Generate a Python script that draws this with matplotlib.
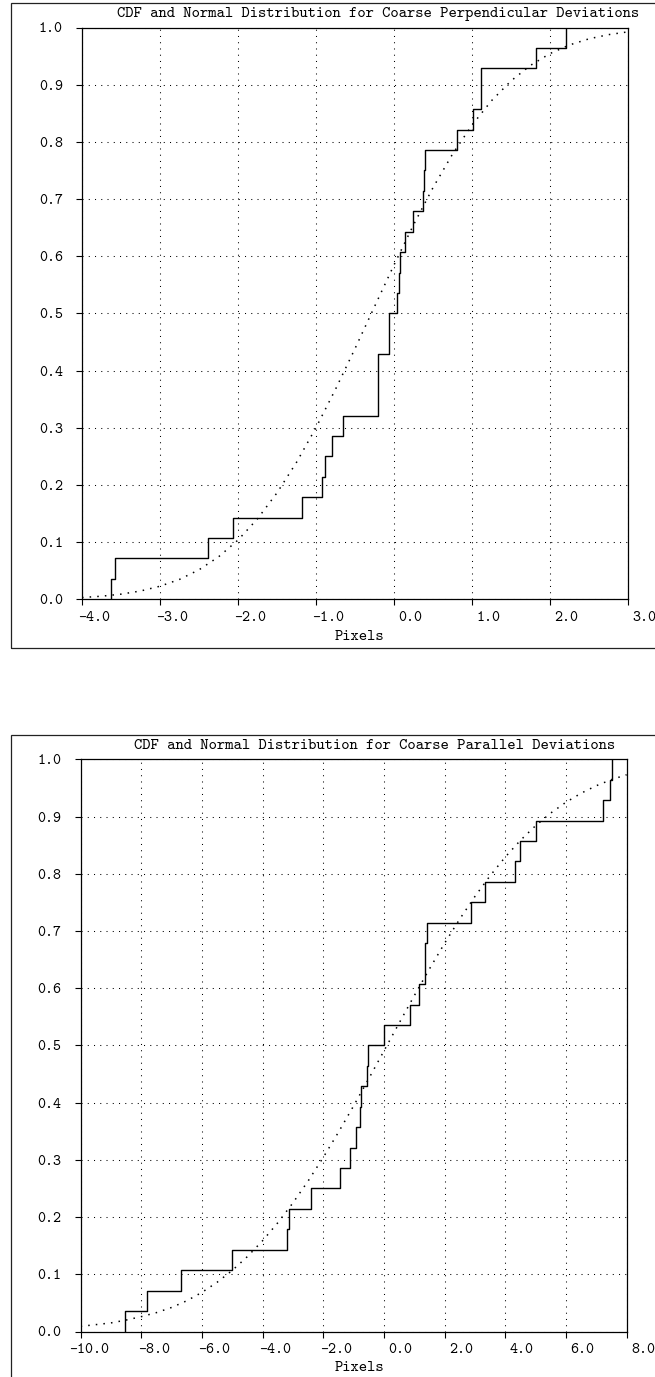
import matplotlib
matplotlib.use("Agg")
import matplotlib.pyplot as plt
import matplotlib.transforms as mtransforms
from matplotlib.patches import Rectangle

# ---------------- data ----------------
perp_title = "CDF and Normal Distribution for Coarse Perpendicular Deviations"
par_title = "CDF and Normal Distribution for Coarse Parallel Deviations"
x_label = "Pixels"

# sorted deviations (28 samples each), read from the step positions
perp_samples = [-3.63, -3.58, -2.39, -2.07, -1.18, -0.92, -0.88, -0.80, -0.66,
                -0.21, -0.21, -0.20, -0.07, -0.06, 0.04, 0.07, 0.075, 0.145,
                0.24, 0.376, 0.389, 0.401, 0.812, 1.01, 1.11, 1.12, 1.82, 2.20]
par_samples = [-8.53, -7.81, -6.68, -5.01, -3.20, -3.13, -2.42, -1.46, -1.13,
               -0.91, -0.78, -0.76, -0.56, -0.53, -0.01, 0.87, 1.14, 1.34,
               1.36, 1.43, 2.86, 3.32, 4.31, 4.50, 5.01, 7.22, 7.45, 7.52]

# normal-distribution curves (dotted)
perp_norm_x = [-4.0, -3.75, -3.5, -3.25, -3.0, -2.75, -2.5, -2.25, -2.0, -1.75,
               -1.5, -1.25, -1.0, -0.75, -0.5, -0.25, 0.0, 0.25, 0.5, 0.75,
               1.0, 1.25, 1.5, 1.75, 2.0, 2.25, 2.5, 2.75, 3.0]
perp_norm_y = [0.0031, 0.0054, 0.0090, 0.0145, 0.0229, 0.0348, 0.0516, 0.0742,
               0.1036, 0.1408, 0.1862, 0.2395, 0.3002, 0.3673, 0.4384, 0.5118,
               0.5847, 0.6548, 0.7199, 0.7785, 0.8293, 0.8720, 0.9066, 0.9338,
               0.9544, 0.9695, 0.9802, 0.9875, 0.9924]
par_norm_x = [-10.0, -9.5, -9.0, -8.5, -8.0, -7.5, -7.0, -6.5, -6.0, -5.5,
              -5.0, -4.5, -4.0, -3.5, -3.0, -2.5, -2.0, -1.5, -1.0, -0.5,
              0.0, 0.5, 1.0, 1.5, 2.0, 2.5, 3.0, 3.5, 4.0, 4.5, 5.0, 5.5,
              6.0, 6.5, 7.0, 7.5, 8.0]
par_norm_y = [0.009, 0.012, 0.015, 0.020, 0.026, 0.033, 0.042, 0.0537, 0.0684,
              0.0860, 0.1068, 0.1310, 0.1587, 0.1900, 0.2248, 0.2630, 0.3043,
              0.3482, 0.3943, 0.4419, 0.4903, 0.5389, 0.5869, 0.6336, 0.6785,
              0.7209, 0.7603, 0.7965, 0.8292, 0.8584, 0.8840, 0.9061, 0.9249,
              0.9407, 0.9538, 0.9645, 0.9730]

perp_xticks = [-4.0, -3.0, -2.0, -1.0, 0.0, 1.0, 2.0, 3.0]
par_xticks = [-10.0, -8.0, -6.0, -4.0, -2.0, 0.0, 2.0, 4.0, 6.0, 8.0]
yticks = [0.0, 0.1, 0.2, 0.3, 0.4, 0.5, 0.6, 0.7, 0.8, 0.9, 1.0]

# ---------------- figure ----------------
W, H = 655, 1377
DPI = 100
plt.rcParams['font.family'] = ['cmtt10', 'Liberation Mono', 'DejaVu Sans Mono']
plt.rcParams['axes.unicode_minus'] = False
fig = plt.figure(figsize=(W / DPI, H / DPI), dpi=DPI)
fig.patch.set_facecolor('white')

TITLE_FS = 11.4
TICK_FS = 11.0
LABEL_FS = 11.3


def fx(px):
    return px / W


def fy(py):
    return 1 - py / H


def panel(left, right, top, bottom, xlim, xticks, samples, nx, ny,
          title, title_x, title_y, xlabel_y, frame_top, frame_bottom):
    # outer frame
    fig.add_artist(Rectangle((fx(11), fy(frame_bottom)), 3.0,
                             fy(frame_top) - fy(frame_bottom),
                             transform=fig.transFigure, fill=False,
                             edgecolor='#222222', lw=0.9, zorder=0))
    ax = fig.add_axes([fx(left), fy(bottom), fx(right) - fx(left),
                       fy(top) - fy(bottom)])
    ax.set_xlim(*xlim)
    ax.set_ylim(0.0, 1.0)
    ax.set_xticks(xticks)
    ax.set_yticks(yticks)
    ax.set_xticklabels([f"{v:.1f}" for v in xticks])
    ax.set_yticklabels([f"{v:.1f}" for v in yticks])
    ax.grid(True, color='black', linestyle=(0, (1, 5)), linewidth=0.75)
    ax.set_axisbelow(True)
    for s in ax.spines.values():
        s.set_linewidth(0.9)
        s.set_color('black')
    ax.tick_params(axis='both', direction='out', length=4.3, width=0.8,
                   colors='black', labelsize=TICK_FS)
    ax.tick_params(axis='y', pad=9.5)
    ax.tick_params(axis='x', pad=4.0)
    offset = mtransforms.ScaledTranslation(28.5 / DPI, 0, fig.dpi_scale_trans)
    for lab in ax.get_xticklabels():
        lab.set_horizontalalignment('right')
        lab.set_transform(lab.get_transform() + offset)

    n = len(samples)
    sx = [samples[0]] + list(samples)
    sy = [0.0] + [(i + 1) / n for i in range(n)]
    ax.step(sx, sy, where='post', color='black', lw=1.0, zorder=3)
    ax.plot(nx, ny, color='black', lw=1.1, linestyle=(0, (1, 4)),
            dash_capstyle='butt', zorder=2)

    fig.text(fx(title_x), fy(title_y), title, ha='center', va='center',
             fontsize=TITLE_FS, color='black')
    fig.text(fx(359), fy(xlabel_y), x_label, ha='center', va='center',
             fontsize=LABEL_FS, color='black')
    return ax


panel(82, 628, 27.5, 599.3, (-4.0, 3.0), perp_xticks, perp_samples,
      perp_norm_x, perp_norm_y, perp_title, 378, 14, 637, 3.3, 648)
panel(80.6, 626.6, 759.3, 1331.5, (-10.0, 8.0), par_xticks, par_samples,
      par_norm_x, par_norm_y, par_title, 375, 746, 1368, 735, 1500)

fig.savefig('out.png', dpi=DPI, facecolor='white')
